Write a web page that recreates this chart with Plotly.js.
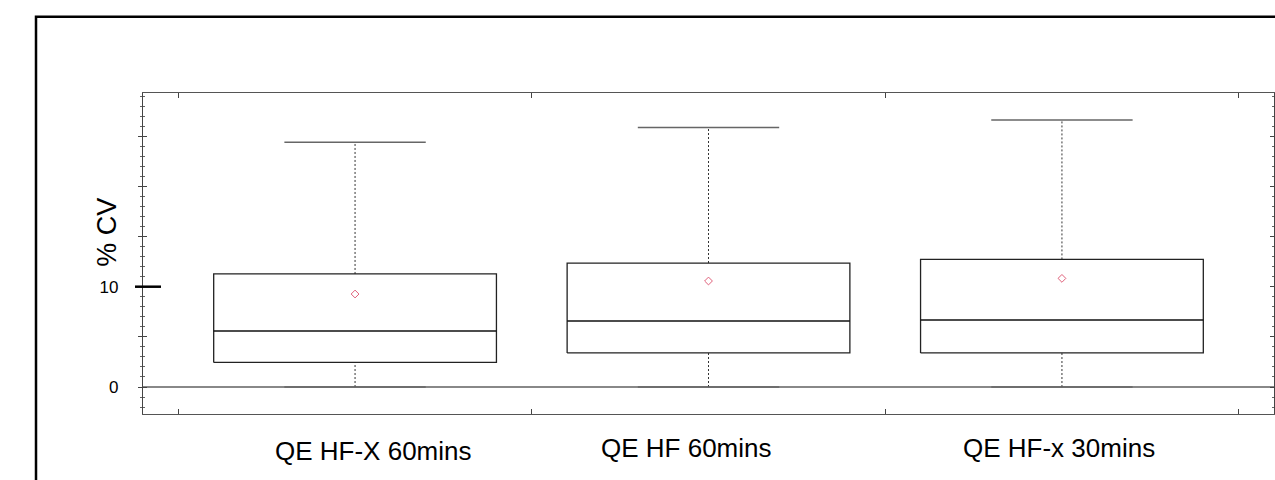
<!DOCTYPE html>
<html>
<head>
<meta charset="utf-8">
<script src="https://cdn.plot.ly/plotly-3.0.1.min.js"></script>
<style>html,body{margin:0;padding:0;background:#fff;}#chart{width:1275px;height:480px;}</style>
</head>
<body>
<div id="chart"></div>
<script>
// ---- data ----
var categories = ['QE HF-X 60mins', 'QE HF 60mins', 'QE HF-x 30mins'];
var q1Values = [2.45, 3.4, 3.4];
var medianValues = [5.58, 6.58, 6.68];
var q3Values = [11.27, 12.36, 12.72];
var meanValues = [9.27, 10.57, 10.83];
var upperWhisker = [24.39, 25.88, 26.62];
var lowerWhisker = [0, 0, 0];
var yTickVals = [0, 5, 10, 15, 20, 25];
var yTickText = ['0', '', '10', '', '', ''];

// ---- styles ----
var BOX_HALF = 0.4, CAP_HALF = 0.2;
var labelShift = [18, -22, -2.5];
var labelYShift = [-37, -33.5, -33.5];
var FONT = 'Liberation Sans, Arial, sans-serif';

var idx = categories.map(function (_, i) { return i; });

// whiskers
var wx = [], wy = [];
idx.forEach(function (i) {
  wx.push(i, i, null, i, i, null);
  wy.push(q3Values[i], upperWhisker[i], null, lowerWhisker[i], q1Values[i], null);
});
// caps
var cx = [], cy = [];
idx.forEach(function (i) {
  cx.push(i - CAP_HALF, i + CAP_HALF, null, i - CAP_HALF, i + CAP_HALF, null);
  cy.push(upperWhisker[i], upperWhisker[i], null, lowerWhisker[i], lowerWhisker[i], null);
});
// boxes
var bx = [], by = [];
idx.forEach(function (i) {
  bx.push(i - BOX_HALF, i + BOX_HALF, i + BOX_HALF, i - BOX_HALF, i - BOX_HALF, null);
  by.push(q1Values[i], q1Values[i], q3Values[i], q3Values[i], q1Values[i], null);
});
// medians
var mx = [], my = [];
idx.forEach(function (i) {
  mx.push(i - BOX_HALF, i + BOX_HALF, null);
  my.push(medianValues[i], medianValues[i], null);
});

var traces = [
  {x: wx, y: wy, mode: 'lines', line: {color: '#333', width: 1, dash: '2px,2px'}, hoverinfo: 'skip'},
  {x: cx, y: cy, mode: 'lines', line: {color: '#666', width: 1.5}, hoverinfo: 'skip'},
  {x: bx, y: by, mode: 'lines', line: {color: '#222', width: 1.3}, hoverinfo: 'skip'},
  {x: mx, y: my, mode: 'lines', line: {color: '#111', width: 1.6}, hoverinfo: 'skip'},
  {x: idx, y: meanValues, mode: 'markers', yaxis: 'y2',
   marker: {symbol: 'diamond-open', size: 6, color: '#e0607a', line: {width: 1, color: '#e0607a'}},
   hoverinfo: 'skip'}
];

var yRange = [-2.69, 29.31];
var annotations = idx.map(function (i) {
  return {
    text: categories[i], xref: 'x', x: i, yref: 'paper', y: 0,
    xanchor: 'center', yanchor: 'middle', xshift: labelShift[i], yshift: labelYShift[i],
    showarrow: false, font: {family: FONT, size: 26, color: '#000'}
  };
});
annotations.push({
  text: '% CV', xref: 'paper', x: -0.0318, yref: 'paper', y: 0.565,
  xanchor: 'center', yanchor: 'middle', textangle: -90, showarrow: false,
  font: {family: FONT, size: 27, color: '#000'}
});

var layout = {
  width: 1275, height: 480,
  margin: {l: 143, r: 1, t: 93, b: 66},
  paper_bgcolor: '#fff', plot_bgcolor: '#fff',
  showlegend: false,
  font: {family: FONT, color: '#000'},
  xaxis: {
    range: [-0.6, 2.6], showgrid: false, zeroline: false,
    tickmode: 'array', tickvals: [-0.5, 0.5, 1.5, 2.5], showticklabels: false,
    ticks: 'inside', ticklen: 5, tickcolor: '#444', tickwidth: 1,
    showline: true, linecolor: '#555', linewidth: 1.2, mirror: 'ticks'
  },
  yaxis: {
    range: yRange, showgrid: false,
    zeroline: true, zerolinecolor: '#888', zerolinewidth: 1.5,
    tickmode: 'array', tickvals: yTickVals, ticktext: yTickText,
    ticks: 'outside', ticklen: 4, tickcolor: '#444', tickwidth: 1,
    ticklabelstandoff: 16,
    tickfont: {family: FONT, size: 17, color: '#000'},
    minor: {tickmode: 'linear', tick0: 0, dtick: 1, ticks: 'outside', ticklen: 2, tickcolor: '#666', tickwidth: 1},
    showline: true, linecolor: '#444', linewidth: 1.2, mirror: true
  },
  yaxis2: {
    overlaying: 'y', side: 'left', anchor: 'x', range: yRange,
    showgrid: false, zeroline: false, showticklabels: false,
    tickmode: 'array', tickvals: yTickVals,
    ticks: 'inside', ticklen: 4, tickcolor: '#444', tickwidth: 1,
    minor: {tickmode: 'linear', tick0: 0, dtick: 1, ticks: 'inside', ticklen: 2, tickcolor: '#666', tickwidth: 1},
    showline: false, mirror: 'ticks'
  },
  shapes: [
    {type: 'line', xref: 'paper', yref: 'y', x0: -0.0071, x1: 0.0159, y0: 10, y1: 10,
     line: {color: '#000', width: 2.5}},
    {type: 'rect', xref: 'paper', yref: 'paper', x0: -0.0946, x1: 1.05, y0: -0.5, y1: 1.2377,
     line: {color: '#000', width: 2.5}, fillcolor: 'rgba(0,0,0,0)'}
  ],
  annotations: annotations
};

Plotly.newPlot('chart', traces, layout, {displayModeBar: false, staticPlot: true});
</script>
</body>
</html>
